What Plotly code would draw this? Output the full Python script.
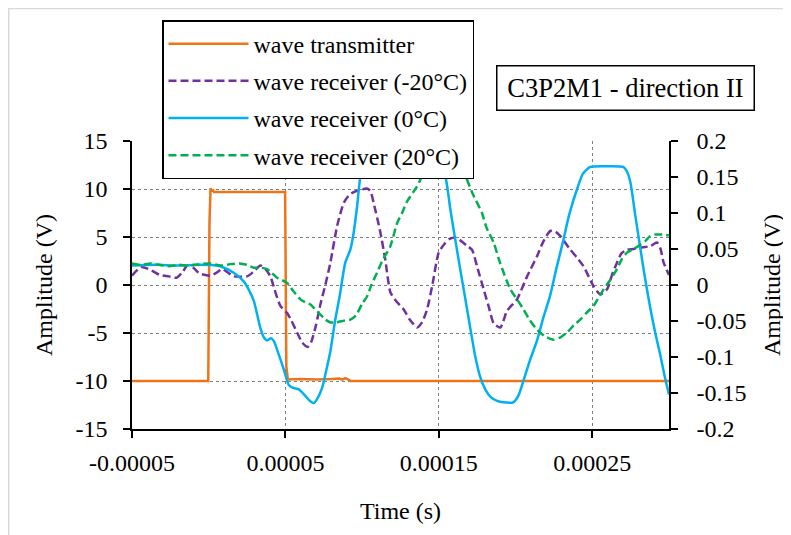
import numpy as np
import plotly.graph_objects as go

US = 1e-6  # data times below are given in microseconds

# ---------------- data ----------------
tx_time_us = [-50, -0.3, 0.5, 1.2, 1.8, 2.6, 3.4, 5, 30, 49.8, 50.6, 51.6, 60, 70, 80, 85, 87, 89, 91, 92.5, 300]
tx_amp = [-10, -10, 6.5, 10.1, 9.75, 9.95, 9.7, 9.7, 9.7, 9.7, -8.5, -9.85, -9.8, -9.85, -9.8, -9.75, -9.85, -9.7, -9.85, -10, -10]

rm20_time_us = [-50, -44, -38, -32, -26, -21, -17, -14, -10, -6, 1, 5, 8.8, 12, 16.3, 25, 29, 33.7, 37, 40.2,
                43, 46.7, 51.1, 54, 57.6, 61, 64.5, 67, 70, 73, 76, 79.3, 83.7, 88, 92, 97, 103.2, 105.5, 107.5,
                111.9, 115.1, 118.4, 122, 127.1, 131, 135.8, 139, 142.3, 145.6, 149.9, 154, 157, 160.7, 164, 168,
                171.6, 175, 179.2, 182.5, 185.7, 190.1, 194.4, 200.9, 207.5, 214, 218, 222.6, 226, 229.2, 235.7,
                240, 244.3, 250.9, 255.2, 259.6, 263, 266.1, 269, 272.6, 277, 281.3, 287.8, 292.1, 294.5, 296.5, 300]
rm20_amp = [0.013, 0.025, 0.021, 0.014, 0.012, 0.010, 0.018, 0.027, 0.024, 0.016, 0.013, 0.017, 0.022, 0.018, 0.012,
            0.012, 0.018, 0.027, 0.022, 0.012, -0.007, -0.029, -0.039, -0.050, -0.066, -0.080, -0.086, -0.078,
            -0.055, -0.025, 0.000, 0.031, 0.082, 0.114, 0.126, 0.131, 0.134, 0.130, 0.114, 0.073, 0.035, -0.010,
            -0.022, -0.034, -0.048, -0.059, -0.052, -0.034, -0.002, 0.045, 0.058, 0.064, 0.066, 0.062, 0.055,
            0.049, 0.025, -0.006, -0.030, -0.053, -0.059, -0.036, -0.020, 0.012, 0.040, 0.060, 0.075, 0.074,
            0.068, 0.049, 0.038, 0.026, -0.002, -0.013, -0.006, 0.015, 0.031, 0.044, 0.049, 0.050, 0.052, 0.054,
            0.059, 0.050, 0.031, 0.014]

r0_time_us = [-50, -35, -20, -5, 5, 10, 16.3, 22.8, 26, 29.4, 33.7, 36, 38.1, 40.5, 42.5, 44.6, 48.9, 52.2, 55,
              58.7, 63, 66, 68.4, 71, 73.9, 77, 79.3, 82.5, 85.4, 89, 92.3, 94.5, 96.7, 98.9, 101, 103, 125, 148,
              151, 154.2, 157.5, 160.7, 164, 167.3, 170.5, 173.8, 177, 180.5, 184, 188, 192, 198.5, 202, 205, 209,
              214, 218, 222.6, 226.5, 231, 235, 240.2, 244, 248.7, 260, 270.2, 272.5, 274.8, 278, 281.3, 284.5,
              287.8, 291, 294.3, 297, 300]
r0_amp = [0.027, 0.028, 0.027, 0.028, 0.027, 0.024, 0.017, 0.005, -0.006, -0.022, -0.060, -0.073, -0.077, -0.074,
          -0.078, -0.090, -0.117, -0.139, -0.143, -0.145, -0.154, -0.161, -0.164, -0.157, -0.143, -0.115, -0.092,
          -0.048, -0.015, 0.031, 0.049, 0.073, 0.109, 0.151, 0.163, 0.165, 0.165, 0.165, 0.163, 0.151, 0.105,
          0.063, 0.021, -0.020, -0.060, -0.100, -0.128, -0.146, -0.156, -0.161, -0.163, -0.163, -0.153, -0.134,
          -0.107, -0.077, -0.046, -0.014, 0.022, 0.061, 0.098, 0.134, 0.155, 0.164, 0.165, 0.164, 0.158, 0.143,
          0.097, 0.051, 0.008, -0.032, -0.066, -0.097, -0.125, -0.152]

r20_time_us = [-50, -44, -38, -32, -26, -20, -13, -6, 1, 8, 14, 20, 25, 29.4, 34, 38.1, 41, 44.6, 51.1, 55, 59.8,
               63, 66.3, 69, 72.8, 76, 79.3, 83, 87, 92.3, 96, 100, 103.2, 106, 109.7, 113, 118.4, 122.8, 126,
               129.3, 135.8, 140, 146, 152, 158, 163, 167.3, 172, 178.1, 181, 185.7, 190, 196.6, 201, 205.2, 209,
               214, 219, 224.8, 229, 233.5, 238, 242.2, 246, 250.9, 254, 257.4, 262, 266.1, 269, 272.6, 277, 281.3,
               284.5, 287.8, 291, 296.5, 300]
r20_amp = [0.030, 0.028, 0.030, 0.028, 0.026, 0.028, 0.027, 0.029, 0.030, 0.027, 0.029, 0.030, 0.028, 0.024,
           0.024, 0.022, 0.017, 0.010, 0.003, -0.008, -0.020, -0.024, -0.027, -0.033, -0.041, -0.048, -0.052,
           -0.052, -0.050, -0.048, -0.042, -0.026, -0.016, 0.000, 0.017, 0.033, 0.054, 0.086, 0.100, 0.116, 0.137,
           0.155, 0.172, 0.180, 0.175, 0.163, 0.151, 0.127, 0.100, 0.080, 0.059, 0.030, -0.006, -0.020, -0.034,
           -0.048, -0.062, -0.071, -0.076, -0.073, -0.066, -0.056, -0.048, -0.039, -0.029, -0.018, -0.006, 0.008,
           0.022, 0.035, 0.045, 0.050, 0.056, 0.061, 0.068, 0.070, 0.070, 0.069]

x_tickvals = [-0.00005, 0.00005, 0.00015, 0.00025]
x_ticktext = ["-0.00005", "0.00005", "0.00015", "0.00025"]
y1_tickvals = [-15, -10, -5, 0, 5, 10, 15]
y1_ticktext = ["-15", "-10", "-5", "0", "5", "10", "15"]
y2_tickvals = [-0.2, -0.15, -0.1, -0.05, 0, 0.05, 0.1, 0.15, 0.2]
y2_ticktext = ["-0.2", "-0.15", "-0.1", "-0.05", "0", "0.05", "0.1", "0.15", "0.2"]

# ---------------- figure ----------------
FONT = "Liberation Serif"


def t(us):
    return np.array(us) * US


fig = go.Figure()
fig.add_trace(go.Scatter(x=t(tx_time_us), y=tx_amp, name="wave transmitter", mode="lines",
                         line=dict(color="#EE7418", width=2.5), yaxis="y", legendgroup="a"))
fig.add_trace(go.Scatter(x=t(rm20_time_us), y=rm20_amp, name="wave receiver (-20°C)", mode="lines",
                         line=dict(color="#7030A0", width=2.5, dash="8px,4px", shape="spline", smoothing=0.6),
                         yaxis="y2", legendgroup="b"))
fig.add_trace(go.Scatter(x=t(r0_time_us), y=r0_amp, name="wave receiver (0°C)", mode="lines",
                         line=dict(color="#00B0F0", width=2.5, shape="spline", smoothing=0.6),
                         yaxis="y2", legendgroup="c"))
fig.add_trace(go.Scatter(x=t(r20_time_us), y=r20_amp, name="wave receiver (20°C)", mode="lines",
                         line=dict(color="#00B050", width=2.5, dash="8px,4px", shape="spline", smoothing=0.6),
                         yaxis="y2", legendgroup="d"))

axis_common = dict(showline=True, linecolor="black", linewidth=1.5, ticks="outside", ticklen=7,
                   tickcolor="black", tickwidth=1.5, zeroline=False, automargin=False,
                   tickfont=dict(family=FONT, size=24, color="black"))

# page body has an 8px margin; the figure is sized so it fits the 791x535 window
# plot area in the page: x 132..669, y 141..429
fig.update_layout(
    width=783, height=527, autosize=False,
    margin=dict(l=124, r=122, t=133, b=106),
    paper_bgcolor="white", plot_bgcolor="white",
    font=dict(family=FONT, size=24, color="black"),
    xaxis=dict(range=[-0.00005, 0.0003], tickmode="array", tickvals=x_tickvals, ticktext=x_ticktext,
               showgrid=True, gridcolor="#7F7F7F", gridwidth=1, griddash="3px,3px",
               title=dict(text="Time (s)", font=dict(family=FONT, size=24), standoff=28),
               ticklabelstandoff=4, **axis_common),
    yaxis=dict(range=[-15, 15], tickmode="array", tickvals=y1_tickvals, ticktext=y1_ticktext,
               showgrid=True, gridcolor="#7F7F7F", gridwidth=1, griddash="3px,3px",
               title=dict(text="Amplitude (V)", font=dict(family=FONT, size=24), standoff=16),
               ticklabelstandoff=11, **axis_common),
    yaxis2=dict(range=[-0.2, 0.2], tickmode="array", tickvals=y2_tickvals, ticktext=y2_ticktext,
                overlaying="y", side="right", showgrid=False,
                title=dict(text="Amplitude (V)", font=dict(family=FONT, size=24), standoff=18),
                ticklabelstandoff=14, **axis_common),
    showlegend=True,
    legend=dict(x=0.0559, y=1.42, xanchor="left", yanchor="top", bgcolor="white",
                bordercolor="black", borderwidth=1.5, font=dict(family=FONT, size=24, color="black"),
                itemwidth=80, tracegroupgap=3, traceorder="grouped"),
    annotations=[dict(text="C3P2M1 - direction II", xref="paper", yref="paper", x=0.9185, y=1.185,
                      xanchor="center", yanchor="middle", showarrow=False, width=248, height=35,
                      font=dict(family=FONT, size=26.5, color="black"),
                      bordercolor="black", borderwidth=1.5, borderpad=4, bgcolor="white")],
    shapes=[dict(type="rect", xref="paper", yref="paper", x0=-0.2295, y0=-0.5, x1=1.3, y1=1.46,
                 line=dict(color="#D9D9D9", width=1.5), layer="below")],
)

fig.write_html("out.html")
